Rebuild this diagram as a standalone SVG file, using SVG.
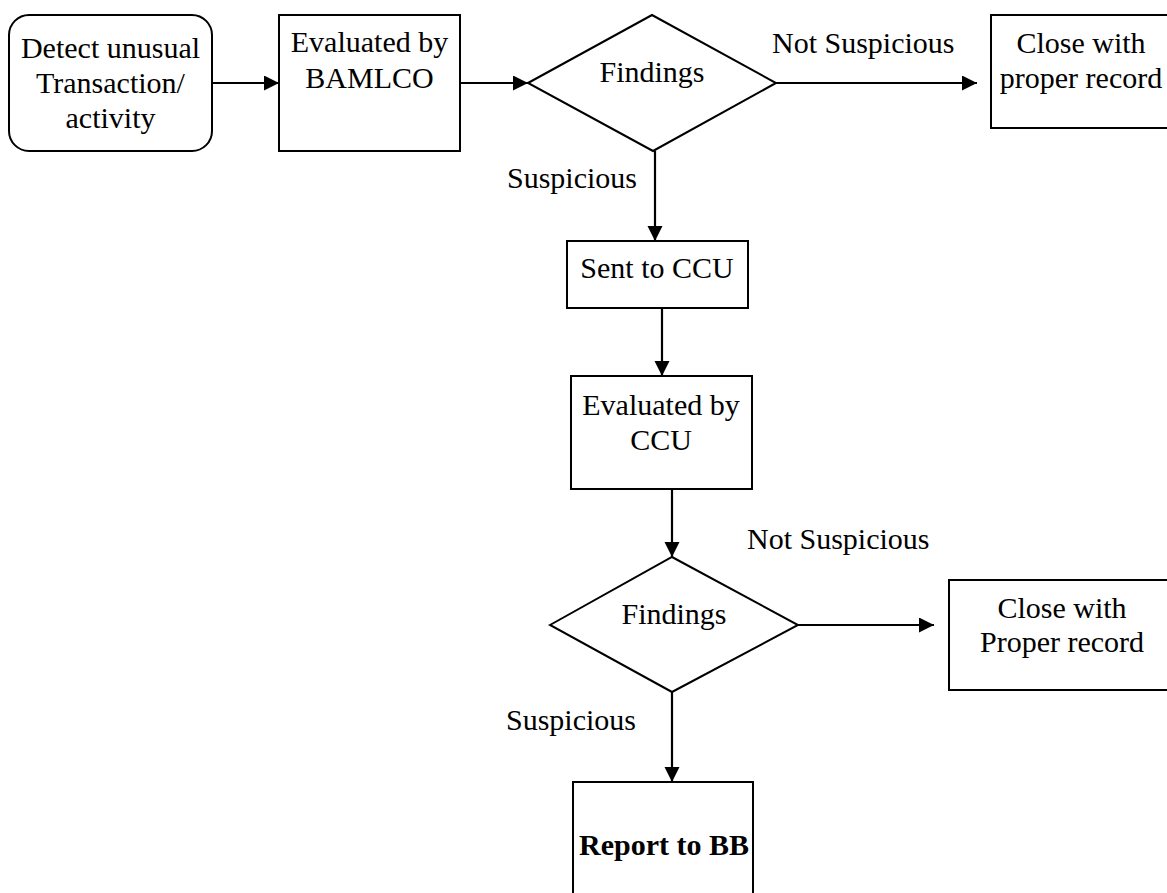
<svg xmlns="http://www.w3.org/2000/svg" width="1167" height="893" viewBox="0 0 1167 893">
<style>
.box{fill:#fff;stroke:#000;stroke-width:2}
.t{font-family:"Liberation Serif","Times New Roman",serif;font-size:30px;fill:#000}
.c{text-anchor:middle}
.b{font-weight:bold}
.conn line{stroke:#000;stroke-width:2.2;fill:none}
</style>
<defs>
<marker id="ah" markerUnits="userSpaceOnUse" markerWidth="16" markerHeight="16" refX="15" refY="7.5" orient="auto">
<path d="M0,0 L15,7.5 L0,15 z" fill="#000"/>
</marker>
</defs>
<rect width="1167" height="893" fill="#fff"/>
<g id="n1">
<rect class="box" x="9" y="15" width="203" height="136" rx="20" ry="20"/>
<text class="t c" x="110.5" y="58">Detect unusual</text>
<text class="t c" x="110.5" y="93">Transaction/</text>
<text class="t c" x="110.5" y="128">activity</text>
</g>
<g id="n2">
<rect class="box" x="279" y="15" width="181" height="136"/>
<text class="t c" x="369.5" y="52">Evaluated by</text>
<text class="t c" x="369.5" y="88">BAMLCO</text>
</g>
<g id="d1">
<polygon class="box" points="528,83 652,15 776,83 653,151"/>
<text class="t c" x="652" y="82">Findings</text>
</g>
<g id="n3">
<rect class="box" x="991" y="15" width="200" height="113"/>
<text class="t c" x="1081" y="53">Close with</text>
<text class="t c" x="1081" y="88">proper record</text>
</g>
<g id="n4">
<rect class="box" x="567" y="241" width="181" height="67"/>
<text class="t c" x="657" y="278">Sent to CCU</text>
</g>
<g id="n5">
<rect class="box" x="571" y="376" width="181" height="113"/>
<text class="t c" x="661" y="415">Evaluated by</text>
<text class="t c" x="661" y="450">CCU</text>
</g>
<g id="d2">
<polygon class="box" points="550,625 672,557 798,625 672,692"/>
<text class="t c" x="674" y="624">Findings</text>
</g>
<g id="n6">
<rect class="box" x="949" y="580" width="240" height="110"/>
<text class="t c" x="1062" y="618">Close with</text>
<text class="t c" x="1062" y="652">Proper record</text>
</g>
<g id="n7">
<rect class="box" x="573" y="782" width="180" height="150"/>
<text class="t c b" x="664" y="855">Report to BB</text>
</g>
<g id="connectors" class="conn">
<line x1="212" y1="83" x2="279" y2="83" marker-end="url(#ah)"/>
<line x1="460" y1="83" x2="528" y2="83" marker-end="url(#ah)"/>
<line x1="776" y1="83" x2="977" y2="83" marker-end="url(#ah)"/>
<line x1="655" y1="151" x2="655" y2="241" marker-end="url(#ah)"/>
<line x1="662" y1="308" x2="662" y2="376" marker-end="url(#ah)"/>
<line x1="672" y1="489" x2="672" y2="557" marker-end="url(#ah)"/>
<line x1="798" y1="625" x2="934" y2="625" marker-end="url(#ah)"/>
<line x1="672" y1="692" x2="672" y2="782" marker-end="url(#ah)"/>
</g>
<g id="labels">
<text class="t" x="772" y="53">Not Suspicious</text>
<text class="t" x="507" y="188">Suspicious</text>
<text class="t" x="747" y="549">Not Suspicious</text>
<text class="t" x="506" y="730">Suspicious</text>
</g>
</svg>
